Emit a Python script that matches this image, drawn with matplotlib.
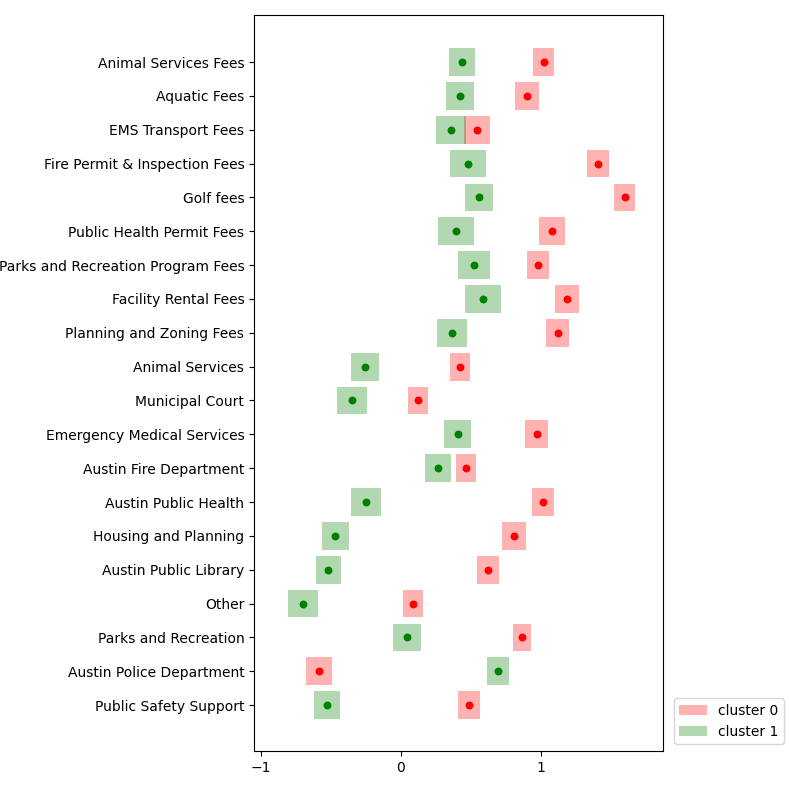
import matplotlib
matplotlib.use("Agg")
import matplotlib.pyplot as plt
import numpy as np

categories = ["Animal Services Fees", "Aquatic Fees", "EMS Transport Fees",
              "Fire Permit & Inspection Fees", "Golf fees", "Public Health Permit Fees",
              "Parks and Recreation Program Fees", "Facility Rental Fees",
              "Planning and Zoning Fees", "Animal Services", "Municipal Court",
              "Emergency Medical Services", "Austin Fire Department", "Austin Public Health",
              "Housing and Planning", "Austin Public Library", "Other",
              "Parks and Recreation", "Austin Police Department", "Public Safety Support"]
c0_mean = [1.02, 0.90, 0.543, 1.407, 1.60, 1.08, 0.98, 1.186, 1.12, 0.42, 0.12, 0.97,
           0.464, 1.014, 0.807, 0.62, 0.086, 0.864, -0.586, 0.486]
c0_half = [0.075, 0.085, 0.09, 0.08, 0.075, 0.09, 0.08, 0.086, 0.08, 0.07, 0.07, 0.08,
           0.07, 0.08, 0.086, 0.08, 0.07, 0.065, 0.093, 0.08]
c1_mean = [0.436, 0.42, 0.357, 0.48, 0.557, 0.393, 0.52, 0.586, 0.364, -0.257, -0.35, 0.407,
           0.264, -0.25, -0.47, -0.52, -0.70, 0.043, 0.693, -0.529]
c1_half = [0.09, 0.10, 0.107, 0.13, 0.10, 0.13, 0.115, 0.13, 0.11, 0.10, 0.107, 0.096,
           0.093, 0.107, 0.096, 0.09, 0.11, 0.10, 0.08, 0.096]

fig = plt.figure(figsize=(7.89, 7.89), dpi=100)
ax = fig.add_axes([0.322, 0.048, 0.518, 0.933])
y = np.arange(len(categories))
for mean, half, col, lab in [(c0_mean, c0_half, "red", "cluster 0"),
                             (c1_mean, c1_half, "green", "cluster 1")]:
    m = np.array(mean); h = np.array(half)
    ax.barh(y, 2 * h, left=m - h, height=0.82, color=col, alpha=0.3, label=lab)
    ax.scatter(m, y, color=col, s=22, zorder=3)
ax.set_yticks(y)
ax.set_yticklabels(categories, fontsize=10)
ax.set_xticks([-1, 0, 1])
ax.set_xticklabels(["\u22121", "0", "1"])
ax.set_xlim(-1.05, 1.871)
ax.set_ylim(20.36, -1.39)
ax.legend(loc="lower left", bbox_to_anchor=(1.01, 0.0), fontsize=10)
fig.savefig("out.png", dpi=100)
